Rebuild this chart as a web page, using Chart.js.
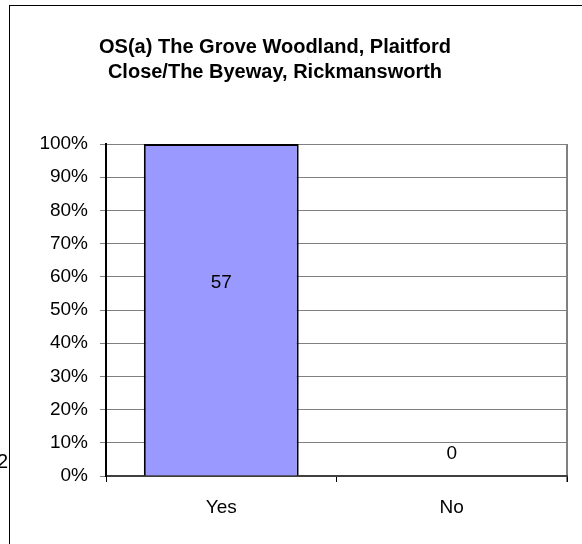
<!DOCTYPE html>
<html>
<head>
<meta charset="utf-8">
<script src="https://cdn.jsdelivr.net/npm/chart.js@4"></script>
<style>
html,body{margin:0;padding:0;background:#fff;}
#wrap{width:582px;height:544px;position:relative;}
</style>
</head>
<body>
<div id="wrap"><canvas id="c" width="582" height="544"></canvas></div>
<script>
const titleLines = ['OS(a) The Grove Woodland, Plaitford', 'Close/The Byeway, Rickmansworth'];
const categories = ['Yes', 'No'];
const percentValues = [100, 0];
const countLabels = ['57', '0'];
const strayText = '2';

const FONT = '"Liberation Sans", Arial, sans-serif';

const decor = {
  id: 'decor',
  beforeDraw(chart) {
    const ctx = chart.ctx;
    ctx.save();
    ctx.fillStyle = '#fff';
    ctx.fillRect(0, 0, chart.width, chart.height);
    ctx.strokeStyle = '#000';
    ctx.lineWidth = 1;
    ctx.strokeRect(9.5, 5.5, 700, 700);
    const a = chart.chartArea;
    ctx.strokeStyle = '#808080';
    ctx.lineWidth = 2;
    ctx.beginPath();
    ctx.moveTo(a.right, a.top);
    ctx.lineTo(a.right, a.bottom + 6);
    ctx.stroke();
    ctx.restore();
  },
  afterDraw(chart) {
    const ctx = chart.ctx;
    ctx.save();
    ctx.fillStyle = '#000';
    ctx.textAlign = 'center';
    ctx.textBaseline = 'middle';
    ctx.font = 'bold 20px ' + FONT;
    ctx.fillText(titleLines[0], 275, 47);
    ctx.fillText(titleLines[1], 275, 72);
    ctx.font = '19px ' + FONT;
    const meta = chart.getDatasetMeta(0);
    meta.data.forEach((bar, i) => {
      const p = bar.getProps(['x', 'y', 'base'], true);
      const v = percentValues[i];
      const y = v > 0 ? (p.y + p.base) / 2 - 27 : p.base - 22;
      ctx.fillText(countLabels[i], p.x, y);
    });
    ctx.textAlign = 'left';
    ctx.font = '20px ' + FONT;
    ctx.fillText(strayText, -3, 462);
    ctx.restore();
  }
};

new Chart(document.getElementById('c'), {
  type: 'bar',
  data: {
    labels: categories,
    datasets: [{
      data: percentValues,
      backgroundColor: '#9999FF',
      borderColor: '#000',
      borderWidth: 2,
      barPercentage: 0.672,
      categoryPercentage: 1
    }]
  },
  options: {
    responsive: false,
    animation: false,
    devicePixelRatio: 1,
    layout: { padding: { left: 0, right: 15, top: 144, bottom: 0 } },
    plugins: { legend: { display: false }, title: { display: false }, tooltip: { enabled: false } },
    scales: {
      x: {
        afterFit(s) { s.height = 68; },
        grid: { display: true, drawOnChartArea: false, drawTicks: true, tickLength: 6, color: '#000', offset: true },
        border: { display: true, color: '#404040', width: 2 },
        ticks: { color: '#000', font: { family: FONT, size: 19 }, padding: 14 }
      },
      y: {
        min: 0, max: 100,
        afterFit(s) { s.width = 106; },
        grid: { color: '#808080', lineWidth: 1, drawTicks: true, tickLength: 6 },
        border: { display: true, color: '#000', width: 2 },
        ticks: {
          stepSize: 10, color: '#000', padding: 12,
          font: { family: FONT, size: 19 },
          callback: v => v + '%'
        }
      }
    }
  },
  plugins: [decor]
});
</script>
</body>
</html>
